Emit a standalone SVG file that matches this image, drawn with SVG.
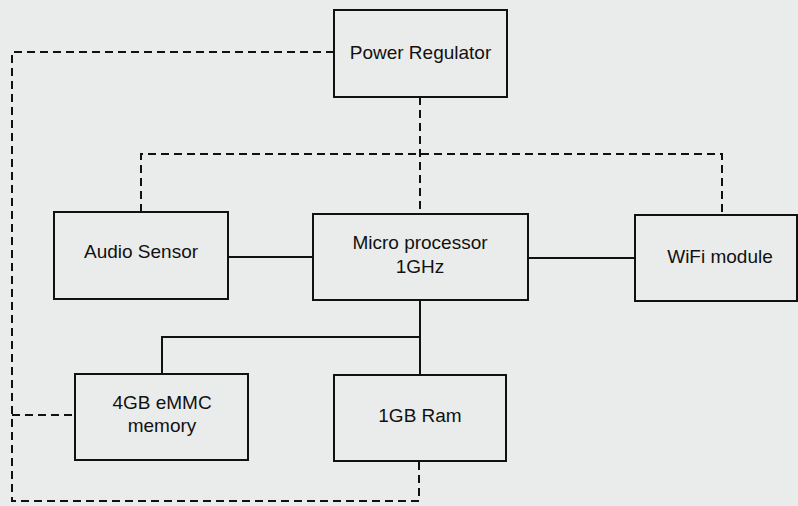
<svg xmlns="http://www.w3.org/2000/svg" width="798" height="506" viewBox="0 0 798 506">
<style>
.box{fill:none;stroke:#111;stroke-width:2}
.solid{fill:none;stroke:#111;stroke-width:2}
.dash{fill:none;stroke:#111;stroke-width:2;stroke-dasharray:8 5}
text{font-family:"Liberation Sans",Arial,sans-serif;font-size:19px;fill:#111;text-anchor:middle}
</style>
<rect x="0" y="0" width="798" height="506" fill="#eaeceb"/>
<g id="connectors">
<polyline class="dash" points="334,52 12,52 12,501 419,501 419,461"/>
<line class="dash" x1="420" y1="97" x2="420" y2="214"/>
<polyline class="dash" points="141,212 141,154 722,154 722,215"/>
<line class="dash" x1="12" y1="415" x2="75" y2="415"/>
<line class="solid" x1="228" y1="257" x2="313" y2="257"/>
<line class="solid" x1="528" y1="258" x2="635" y2="258"/>
<line class="solid" x1="420" y1="300" x2="420" y2="375"/>
<polyline class="solid" points="420,337 162,337 162,374"/>
</g>
<g id="power-regulator">
<rect class="box" x="334" y="10" width="173" height="87"/>
<text x="420.5" y="59">Power Regulator</text>
</g>
<g id="audio-sensor">
<rect class="box" x="54" y="212" width="174" height="87"/>
<text x="141" y="258">Audio Sensor</text>
</g>
<g id="micro-processor">
<rect class="box" x="313" y="214" width="215" height="86"/>
<text x="420" y="249">Micro processor</text>
<text x="420" y="273">1GHz</text>
</g>
<g id="wifi-module">
<rect class="box" x="635" y="215" width="162" height="86"/>
<text x="720" y="263">WiFi module</text>
</g>
<g id="emmc-memory">
<rect class="box" x="75" y="374" width="173" height="86"/>
<text x="162" y="409">4GB eMMC</text>
<text x="162" y="432">memory</text>
</g>
<g id="ram">
<rect class="box" x="334" y="375" width="172" height="86"/>
<text x="420" y="422">1GB Ram</text>
</g>
</svg>
